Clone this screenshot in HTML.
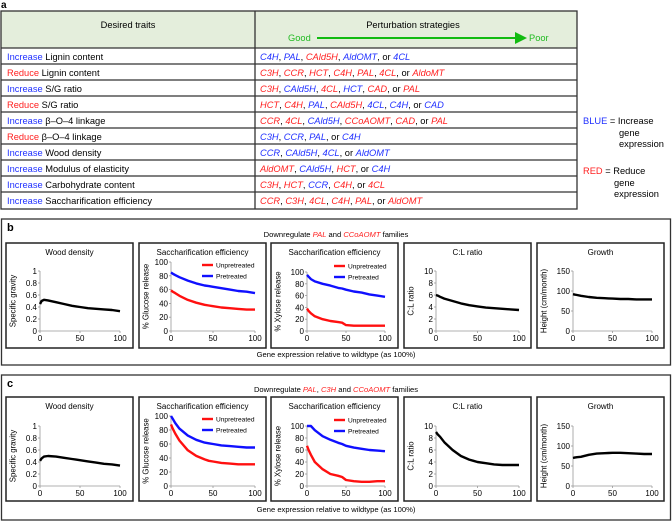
<!DOCTYPE html>
<html><head><meta charset="utf-8"><style>
body{margin:0;background:#fff;width:672px;height:521px;overflow:hidden}
svg{font-family:"Liberation Sans",sans-serif}
.r{fill:#ff2020}.b{fill:#2030ff}.i{font-style:italic}
</style></head><body>
<svg id="fig" width="672" height="521" viewBox="0 0 672 521" xmlns="http://www.w3.org/2000/svg">
<g id="panelA">
<text x="1" y="8" font-size="10" font-weight="bold">a</text>
<rect x="1" y="11" width="576" height="37" fill="#e4eedc"/>
<text x="128" y="28" font-size="9.3" text-anchor="middle">Desired traits</text>
<text x="413" y="28" font-size="9.3" text-anchor="middle">Perturbation strategies</text>
<text x="288" y="41" font-size="9.3" fill="#22bb22">Good</text>
<line x1="317" y1="38" x2="518" y2="38" stroke="#11bb11" stroke-width="2"/>
<polygon points="515,32 527,38 515,44" fill="#11bb11"/>
<text x="529" y="41" font-size="9.3" fill="#22bb22">Poor</text>
<g id="rows"></g>
<rect x="1" y="11" width="576" height="198" fill="none" stroke="#333" stroke-width="1.3"/>
<line x1="255" y1="11" x2="255" y2="209" stroke="#333" stroke-width="1.3"/>
<g font-size="9.3">
<text x="583" y="124"><tspan class="b">BLUE</tspan> = Increase</text>
<text x="619" y="136">gene</text>
<text x="619" y="147">expression</text>
<text x="583" y="174"><tspan class="r">RED</tspan> = Reduce</text>
<text x="614" y="186">gene</text>
<text x="614" y="197">expression</text>
</g>
</g>
<g id="charts"></g>
</svg>
<script>
const NS="http://www.w3.org/2000/svg";
const svg=document.getElementById('fig');
function el(t,a,p){const e=document.createElementNS(NS,t);for(const k in a)e.setAttribute(k,a[k]);(p||svg).appendChild(e);return e;}

// ---- table data ----
const traitVerbs=["Increase","Reduce","Increase","Reduce","Increase","Reduce","Increase","Increase","Increase","Increase"];
const traitNames=["Lignin content","Lignin content","S/G ratio","S/G ratio","\u03b2\u2013O\u20134 linkage","\u03b2\u2013O\u20134 linkage","Wood density","Modulus of elasticity","Carbohydrate content","Saccharification efficiency"];
const strategies=[
[["C4H","b"],["PAL","b"],["CAld5H","r"],["AldOMT","b"],["4CL","b"]],
[["C3H","r"],["CCR","r"],["HCT","r"],["C4H","r"],["PAL","r"],["4CL","r"],["AldoMT","r"]],
[["C3H","r"],["CAld5H","b"],["4CL","r"],["HCT","b"],["CAD","r"],["PAL","r"]],
[["HCT","r"],["C4H","r"],["PAL","b"],["CAld5H","r"],["4CL","b"],["C4H","b"],["CAD","b"]],
[["CCR","r"],["4CL","r"],["CAld5H","b"],["CCoAOMT","r"],["CAD","r"],["PAL","r"]],
[["C3H","b"],["CCR","b"],["PAL","b"],["C4H","b"]],
[["CCR","b"],["CAld5H","b"],["4CL","b"],["AldOMT","b"]],
[["AldOMT","r"],["CAld5H","b"],["HCT","r"],["C4H","b"]],
[["C3H","r"],["HCT","r"],["CCR","b"],["C4H","r"],["4CL","r"]],
[["CCR","r"],["C3H","r"],["4CL","r"],["C4H","r"],["PAL","r"],["AldOMT","r"]]];
const rowsG=document.getElementById('rows');
traitVerbs.forEach((v,i)=>{
  const y=48+i*16;
  const ln=el('line',{x1:1,x2:577,y1:y,y2:y,stroke:'#333','stroke-width':1.2},rowsG);
  
  
  const t=el('text',{x:7,y:y+11.8,'font-size':9.3},rowsG);
  
  
  const s1=el('tspan',{class:v=="Increase"?"b":"r"},t);s1.textContent=v;
  const s2=el('tspan',{},t);s2.textContent=" "+traitNames[i];
  const t2=el('text',{x:260,y:y+11.8,'font-size':9.3},rowsG);
  
  
  const g=strategies[i];
  g.forEach((gg,j)=>{
    if(j>0){const c=el('tspan',{},t2);c.textContent=(j==g.length-1)?", or ":", ";}
    const s=el('tspan',{class:gg[1]+" i"},t2);s.textContent=gg[0];
  });
});

// ---- chart data ----
const xs=[0,2,5,10,20,30,40,45,50,60,70,80,90,100];
const bWood=[0.45,0.50,0.52,0.51,0.48,0.45,0.42,0.41,0.40,0.38,0.37,0.36,0.35,0.33];
const bGluPre=[85,83,81,78,73,69,66,65,64,62,60,58,57,55];
const bGluUn=[59,57,55,51,45,41,38,37,36,34,33,32,31,31];
const bXylPre=[95,92,88,84,80,77,73,72,70,67,65,62,60,58];
const bXylUn=[38,34,30,25,20,17,15,14,10,9,9,9,9,9];
const bCL=[6,5.9,5.7,5.4,5,4.6,4.3,4.2,4.1,3.9,3.8,3.7,3.6,3.5];
const bGrowth=[92,91,90,88,85,83,82,81.5,81,80,80,79,79,79];
const cWood=[0.42,0.46,0.49,0.50,0.49,0.47,0.45,0.44,0.43,0.41,0.39,0.37,0.36,0.34];
const cGluPre=[100,96,90,82,72,66,62,61,60,58,57,56,55,55];
const cGluUn=[88,82,75,65,51,43,38,36,35,33,32,31,31,31];
const cXylPre=[100,100,100,93,83,77,72,70,67,64,62,60,59,58];
const cXylUn=[67,60,52,40,28,20,17,15,10,8,7,7,8,8];
const cCL=[9,8.6,8.2,7.3,6,5,4.4,4.2,4,3.8,3.6,3.5,3.5,3.5];
const cGrowth=[70,71,72,73,78,81,82,82.5,83,83,82,81,80,80];
const xTicks=[0,50,100];
const woodTicks=[0,0.2,0.4,0.6,0.8,1];
const pctTicks=[0,20,40,60,80,100];
const clTicks=[0,2,4,6,8,10];
const growthTicks=[0,50,100,150];
const seriesNames=["Unpretreated","Pretreated"];

const cg=document.getElementById('charts');
function panelBox(label,y0,h,parts,titleY){
  const r=el('rect',{x:1.5,y:y0,width:669,height:h,fill:'none',stroke:'#333','stroke-width':1.3},cg);
  
  
  const l=el('text',{x:7,y:y0+12,'font-size':11,'font-weight':'bold'},cg);l.textContent=label;
  
  
  const t=el('text',{x:336,y:titleY,'font-size':7.6,'text-anchor':'middle'},cg);
  
  
  parts.forEach(p=>{const s=el('tspan',p[1]?{class:'r i'}:{},t);s.textContent=p[0];});
  const g=el('text',{x:336,y:y0+h-8,'font-size':7.6,'text-anchor':'middle'},cg);
  g.textContent="Gene expression relative to wildtype (as 100%)";
  
  
}
function chart(o){
  const g=el('g',{},cg);
  
  
  el('rect',{x:o.bx,y:o.by,width:127,height:o.bh,fill:'none',stroke:'#222','stroke-width':1.5},g);
  const tt=el('text',{x:o.bx+63.5,y:o.by+12,'font-size':8,'text-anchor':'middle'},g);tt.textContent=o.title;
  
  
  const x0=o.bx+o.px, x1=x0+o.pw, yb=o.by+o.pb, yt=o.by+o.pt;
  const ymax=o.yt[o.yt.length-1];
  const X=v=>x0+(v/100)*(x1-x0), Y=v=>yb-(v/ymax)*(yb-yt);
  el('line',{x1:x0,x2:x0,y1:yb,y2:yt,stroke:'#999','stroke-width':0.8},g);
  el('line',{x1:x0,x2:x1,y1:yb,y2:yb,stroke:'#999','stroke-width':0.8},g);
  o.yt.forEach(v=>{el('line',{x1:x0-2,x2:x0,y1:Y(v),y2:Y(v),stroke:'#999','stroke-width':0.8},g);
    const t=el('text',{x:x0-3,y:Y(v)+3,'font-size':8,'text-anchor':'end'},g);t.textContent=v;});
  xTicks.forEach(v=>{el('line',{x1:X(v),x2:X(v),y1:yb,y2:yb+2,stroke:'#999','stroke-width':0.8},g);
    const t=el('text',{x:X(v),y:yb+10,'font-size':8,'text-anchor':'middle'},g);t.textContent=v;});
  const yl=el('text',{x:0,y:0,'font-size':7.8,'text-anchor':'middle',transform:`translate(${o.bx+9.5},${(yb+yt)/2}) rotate(-90)`},g);
  yl.textContent=o.ylab;
  
  
  o.series.forEach((s,k)=>{
    const d=xs.map((x,i)=>(i?'L':'M')+X(x).toFixed(1)+','+Y(s.v[i]).toFixed(1)).join(' ');
    const p=el('path',{d:d,fill:'none',stroke:s.c,'stroke-width':2.4,'stroke-linejoin':'round'},g);
    
    
  });
  if(o.legend){
    const lx=o.bx+63, ly=o.by+o.legY;
    [["#ff1010",seriesNames[0]],["#1010ff",seriesNames[1]]].forEach((e,k)=>{
      const lg=el('g',{},g);
      
      
      el('line',{x1:lx,x2:lx+11,y1:ly+k*11,y2:ly+k*11,stroke:e[0],'stroke-width':2.4},lg);
      const t=el('text',{x:lx+14,y:ly+k*11+2.5,'font-size':6.6},lg);t.textContent=e[1];
    });
  }
}
function row(label,by,bh,pt,pb,d){
  const bxs=[6,139,271,404,537];
  chart({name:label+'-wood-density',bx:bxs[0],by,bh,px:34,pw:80,pt:pt[0],pb,yt:woodTicks,title:"Wood density",ylab:"Specific gravity",series:[{n:'wood-density-line',c:'#000',v:d[0]}]});
  chart({name:label+'-glucose-release',bx:bxs[1],by,bh,px:32,pw:84,pt:pt[1],pb,yt:pctTicks,title:"Saccharification efficiency",ylab:"% Glucose release",legend:true,legY:22,series:[{n:'unpretreated-line',c:'#ff1010',v:d[1]},{n:'pretreated-line',c:'#1010ff',v:d[2]}]});
  chart({name:label+'-xylose-release',bx:bxs[2],by,bh,px:36,pw:78,pt:pt[2],pb,yt:pctTicks,title:"Saccharification efficiency",ylab:"% Xylose release",legend:true,legY:23,series:[{n:'unpretreated-line',c:'#ff1010',v:d[3]},{n:'pretreated-line',c:'#1010ff',v:d[4]}]});
  chart({name:label+'-cl-ratio',bx:bxs[3],by,bh,px:32,pw:83,pt:pt[3],pb,yt:clTicks,title:"C:L ratio",ylab:"C:L ratio",series:[{n:'cl-ratio-line',c:'#000',v:d[5]}]});
  chart({name:label+'-growth',bx:bxs[4],by,bh,px:36,pw:79,pt:pt[4],pb,yt:growthTicks,title:"Growth",ylab:"Height (cm/month)",series:[{n:'growth-line',c:'#000',v:d[6]}]});
}
panelBox('b',219,146,[["Downregulate "],["PAL",1],[" and "],["CCoAOMT",1],[" families"]],237);
row('b',243,105,[28,19,29,28,28],88,[bWood,bGluUn,bGluPre,bXylUn,bXylPre,bCL,bGrowth]);
panelBox('c',375,145,[["Downregulate "],["PAL",1],[", "],["C3H",1],[" and "],["CCoAOMT",1],[" families"]],392);
row('c',397,104,[29,19,29,29,29],89,[cWood,cGluUn,cGluPre,cXylUn,cXylPre,cCL,cGrowth]);
</script>
</body></html>
